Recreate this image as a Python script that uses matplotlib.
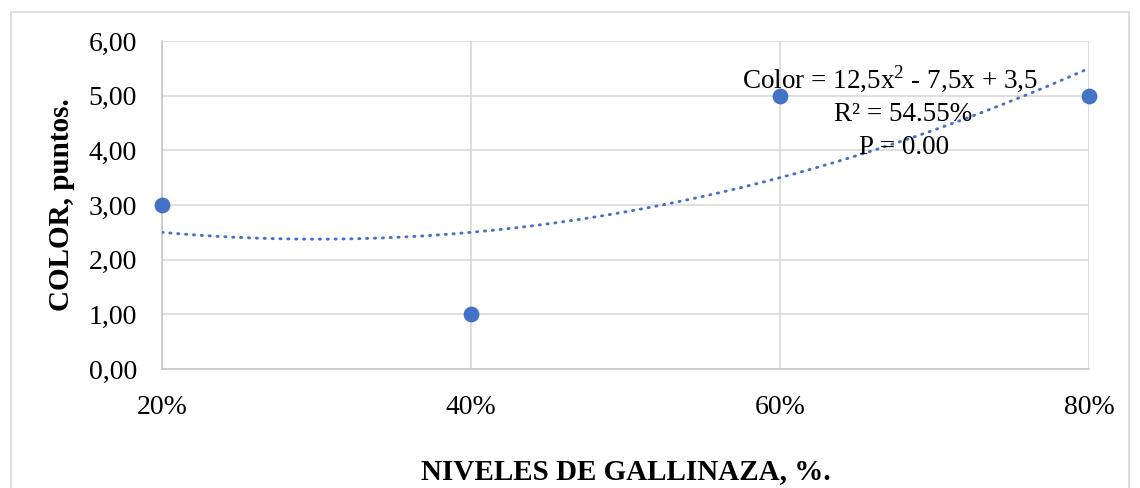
import numpy as np
import matplotlib
matplotlib.use("Agg")
import matplotlib.pyplot as plt
from matplotlib.patches import Rectangle

niveles = [0.2, 0.4, 0.6, 0.8]
color_pts = [3.0, 1.0, 5.0, 5.0]
coef = [12.5, -7.5, 3.5]
x_ticks = [0.2, 0.4, 0.6, 0.8]
x_labels = ["20%", "40%", "60%", "80%"]
y_ticks = [0, 1, 2, 3, 4, 5, 6]
y_labels = ["0,00", "1,00", "2,00", "3,00", "4,00", "5,00", "6,00"]
eq_lines = ["Color = 12,5x$^{\\mathregular{2}}$ - 7,5x + 3,5", "R² = 54.55%", "P = 0.00"]

plt.rcParams['font.family'] = ['Liberation Serif', 'DejaVu Serif']

fig = plt.figure(figsize=(11.4, 4.88), dpi=100)
fig.patches.append(Rectangle((11/1140, -0.1), (1129-11)/1140, (488-12)/488 + 0.1,
                             transform=fig.transFigure, fill=False,
                             edgecolor='#d9d9d9', linewidth=1.2))
ax = fig.add_axes([162/1140, 1-369/488, (1089-162)/1140, (369-41)/488])

blue = '#4472C4'
xs = np.linspace(0.2, 0.8, 300)
ys = np.polyval(coef, xs)
ax.plot(xs, ys, linestyle=(0, (0.4, 2.3)), color=blue, linewidth=2.1,
        dash_capstyle='round', zorder=3)
ax.scatter(niveles, color_pts, s=130, color=blue, zorder=4, clip_on=False,
           linewidths=0)

ax.set_xlim(0.2, 0.8)
ax.set_ylim(0, 6)
ax.set_xticks(x_ticks)
ax.set_xticklabels(x_labels)
ax.set_yticks(y_ticks)
ax.set_yticklabels(y_labels)
ax.grid(True, color='#d9d9d9', linewidth=1.2)
ax.set_axisbelow(True)
for s in ['top', 'right']:
    ax.spines[s].set_visible(False)
for s in ['left', 'bottom']:
    ax.spines[s].set_color('#c8c8c8')
    ax.spines[s].set_linewidth(1.2)
ax.tick_params(axis='both', length=0, labelsize=20, colors='black')
ax.tick_params(axis='x', pad=19)
ax.tick_params(axis='y', pad=18)

ax.set_xlabel("NIVELES DE GALLINAZA, %.", fontsize=21, fontweight='bold', labelpad=27)
ax.set_ylabel("COLOR, puntos.", fontsize=21, fontweight='bold', labelpad=10)

plt.rcParams['mathtext.fontset'] = 'custom'
plt.rcParams['mathtext.rm'] = 'Liberation Serif'
ax.text(0.6713, 5.29, eq_lines[0], ha='center', va='center', fontsize=19.5, zorder=5)
ax.text(0.680, 4.65, eq_lines[1], ha='center', va='center', fontsize=19.5, zorder=5)
ax.text(0.680, 4.06, eq_lines[2], ha='center', va='center', fontsize=19.5, zorder=5)

fig.savefig("out.png", dpi=100)
